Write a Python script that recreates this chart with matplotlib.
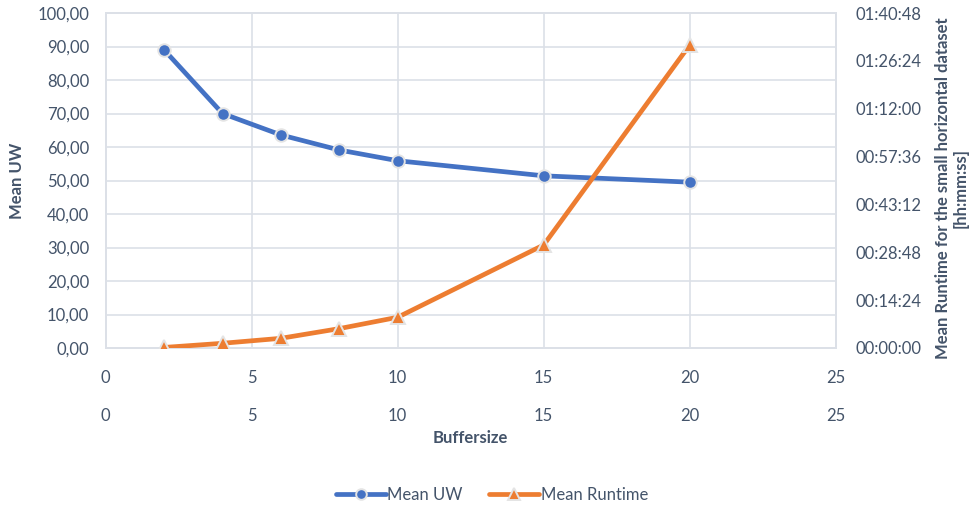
import matplotlib
matplotlib.use("Agg")
import matplotlib.pyplot as plt
from matplotlib.ticker import FuncFormatter, MultipleLocator

# Mean unweighted value and mean runtime per buffer size
buffersize = [2, 4, 6, 8, 10, 15, 20]
mean_uw = [89.0, 70.0, 63.6, 59.1, 55.9, 51.4, 49.5]
mean_runtime_s = [10, 85, 175, 350, 555, 1860, 5470]

plt.rcParams['font.family'] = ['Lato', 'DejaVu Sans']

TEXT = '#44546A'
GRID = '#DCE0E7'
BLUE = '#4472C4'
ORANGE = '#ED7D31'
EDGE = '#E4E4E4'
FS = 12

W, H = 973, 508
fig = plt.figure(figsize=(W / 100, H / 100), dpi=100)
x0, x1, y0, y1 = 105.7, 835.7, 13, 348
ax = fig.add_axes([x0 / W, 1 - y1 / H, (x1 - x0) / W, (y1 - y0) / H])
ax2 = ax.twinx()

# Primary: Mean UW
l1, = ax.plot(buffersize, mean_uw, color=BLUE, lw=3.4, marker='o', ms=9,
              mfc=BLUE, mec=EDGE, mew=1.4, solid_capstyle='round',
              label='Mean UW', zorder=3)
# Secondary: runtime in seconds
l2, = ax2.plot(buffersize, mean_runtime_s, color=ORANGE, lw=3.4, marker='^',
               ms=10, mfc=ORANGE, mec=EDGE, mew=1.4, solid_capstyle='round',
               label='Mean Runtime', zorder=3)

ax.set_xlim(0, 25)
ax.set_ylim(0, 100)
ax.xaxis.set_major_locator(MultipleLocator(5))
ax.yaxis.set_major_locator(MultipleLocator(10))
ax.yaxis.set_major_formatter(FuncFormatter(lambda v, p: f"{v:.2f}".replace('.', ',')))

ax2.set_ylim(0, 7 * 864)
ax2.yaxis.set_major_locator(MultipleLocator(864))


def hms(v, pos):
    t = int(round(v))
    return f"{t // 3600:02d}:{(t % 3600) // 60:02d}:{t % 60:02d}"


ax2.yaxis.set_major_formatter(FuncFormatter(hms))

ax.grid(True, color=GRID, lw=1.2)
ax.set_axisbelow(True)
for a in (ax, ax2):
    for s in a.spines.values():
        s.set_color(GRID)
        s.set_linewidth(1.2)
    a.tick_params(length=0, labelsize=FS, labelcolor=TEXT)
ax.tick_params(axis='y', pad=12)
ax.tick_params(axis='x', pad=16)
ax2.tick_params(axis='y', pad=14)

# Secondary horizontal axis shown below the primary one
sec = ax.secondary_xaxis(-38 / 335)
sec.set_xticks([0, 5, 10, 15, 20, 25])
sec.tick_params(length=0, labelsize=FS, labelcolor=TEXT, pad=16)
sec.spines['bottom'].set_visible(False)

fig.text(470.7 / W, 1 - 438 / H, 'Buffersize', fontsize=FS, fontweight='bold',
         color=TEXT, ha='center', va='center')
fig.text(17 / W, 1 - 180.5 / H, 'Mean UW', fontsize=FS, fontweight='bold',
         color=TEXT, ha='center', va='center', rotation=90)
fig.text(952 / W, 1 - 188 / H,
         'Mean Runtime for the small horizontal dataset\n[hh:mm:ss]',
         fontsize=FS, fontweight='bold', color=TEXT, ha='center', va='center',
         rotation=90, linespacing=1.15, multialignment='center')

fig.legend([l1, l2], ['Mean UW', 'Mean Runtime'], loc='center',
           bbox_to_anchor=(492 / W, 1 - 495 / H), ncol=2, frameon=False,
           fontsize=FS, labelcolor=TEXT, handlelength=3.0, columnspacing=1.6,
           handletextpad=0.1, markerscale=0.85)

fig.savefig('out.png', dpi=100, facecolor='white')
